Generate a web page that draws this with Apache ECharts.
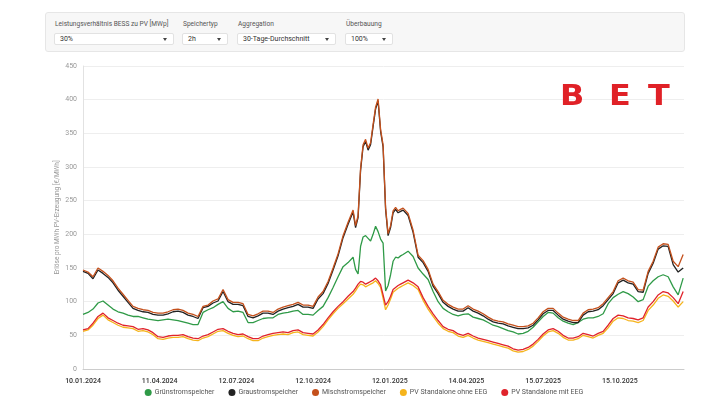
<!DOCTYPE html>
<html>
<head>
<meta charset="utf-8">
<script src="https://cdn.jsdelivr.net/npm/echarts@6/dist/echarts.min.js"></script>
<style>
  html,body{margin:0;padding:0;background:#fff;font-family:"Roboto","Liberation Sans",sans-serif;}
  #wrap{position:relative;width:728px;height:410px;overflow:hidden;}
  #chart{position:absolute;left:0;top:0;width:728px;height:410px;}
  #panel{position:absolute;left:45px;top:12px;width:640px;height:40px;background:#f7f7f7;border:1px solid #e6e6e6;border-radius:3px;box-sizing:border-box;z-index:2;}
  .lbl{position:absolute;top:7px;font-size:6.6px;color:#555;white-space:nowrap;}
  .sel{position:absolute;top:20px;height:12px;background:#fff;border:1px solid #e2e2e2;border-radius:2px;box-sizing:border-box;font-size:7px;color:#333;line-height:10px;padding-left:5px;white-space:nowrap;}
  .sel:after{content:"";position:absolute;right:6px;top:4px;border-left:2.5px solid transparent;border-right:2.5px solid transparent;border-top:3px solid #444;}
  .logo{position:absolute;top:80px;font-family:"DejaVu Sans","Liberation Sans",sans-serif;font-weight:bold;font-size:29px;color:#e02127;z-index:2;line-height:30px;transform:scaleX(1.1);transform-origin:left top;}
</style>
</head>
<body>
<div id="wrap">
  <div id="chart"></div>
  <div id="panel">
    <div class="lbl" style="left:9px">Leistungsverhältnis BESS zu PV [MWp]</div>
    <div class="lbl" style="left:137px">Speichertyp</div>
    <div class="lbl" style="left:192px">Aggregation</div>
    <div class="lbl" style="left:300px">Überbauung</div>
    <div class="sel" style="left:8px;width:120px">30%</div>
    <div class="sel" style="left:136px;width:46px">2h</div>
    <div class="sel" style="left:191px;width:99px">30-Tage-Durchschnitt</div>
    <div class="sel" style="left:299px;width:48px">100%</div>
  </div>
  <div class="logo" style="left:560px">B</div>
  <div class="logo" style="left:609px">E</div>
  <div class="logo" style="left:648px">T</div>
</div>
<script>
// Days since 10.01.2024
const days = [0,6,12,18,24,30,36,42,48,54,60,66,72,78,84,90,96,102,108,114,120,126,132,138,144,150,156,162,168,174,180,186,192,198,204,210,216,222,228,234,240,246,252,258,264,270,276,282,288,294,300,306,312,318,
  324,327,330,333,336,339,342,345,348,351,354,357,360,363,366,369,372,375,378,381,384,
  390,396,402,408,414,420,426,432,438,444,450,456,462,468,474,480,486,492,498,504,510,516,522,528,534,540,546,552,558,564,570,576,582,588,594,600,606,612,618,624,630,636,642,648,654,660,666,672,678,684,690,696,702,708,714,720];

const gruen = [81,84,89,98,101,95,89,85,83,80, 78,78,76,74,73,72,73,74,73,72, 70,68,66,66,84,88,91,96,100,90, 85,86,84,69,69,72,75,76,76,81, 83,84,86,87,81,81,80,87,93,106, 121,137,152,158,
  166,148,141,182,196,198,194,190,200,212,204,193,187,116,124,140,160,166,165,168,170,
  175,167,150,141,133,115,100,90,85,81, 79,81,82,77,75,73,69,65,63,60, 57,55,52,53,56,62,70,78,84,83, 76,71,68,66,69,74,76,76,78,82, 97,106,111,115,112,107,100,103,123,131, 137,140,137,122,110,135];

const grau = [145,142,134,147,142,136,128,117,108,99, 90,87,85,84,81,80,80,82,85,86, 84,80,78,75,91,93,98,101,115,100, 96,96,94,78,76,79,83,83,81,86, 89,91,93,96,92,92,90,104,112,127, 147,168,195,215,
  233,210,225,295,330,338,325,333,360,386,398,353,330,237,198,210,232,237,232,234,236,
  228,203,166,158,145,123,112,99,93,89, 86,86,91,86,83,79,74,70,68,67, 64,62,60,60,61,65,73,82,87,87, 80,74,71,69,69,80,85,86,88,94, 103,112,128,132,128,126,115,114,142,157, 178,183,182,155,144,150];

const misch = [147,144,137,150,145,139,131,120,111,102, 93,90,88,87,84,83,83,85,88,89, 87,83,81,78,93,95,101,104,118,103, 99,99,97,81,79,82,86,86,84,89, 92,94,96,99,95,95,93,107,115,130, 150,171,198,218,
  236,213,228,298,333,341,328,336,363,389,401,356,333,240,201,213,235,240,235,237,239,
  231,206,169,161,148,126,115,102,96,92, 89,89,94,89,86,82,77,73,71,70, 67,65,63,63,64,68,76,85,90,90, 83,77,74,72,72,83,88,89,91,97, 106,115,131,135,131,129,118,117,145,160, 181,186,185,160,152,170];

const pvOhne = [56,58,65,75,80,73,69,65,62,61, 60,56,57,55,51,45,44,46,47,47, 48,45,43,42,46,48,52,56,57,53, 50,48,49,45,42,42,46,48,50,51, 52,51,54,55,51,50,49,55,63,73, 82,90,97,104,
  111,116,122,126,125,122,124,126,128,131,127,121,105,88,95,104,114,117,120,122,124,
  128,124,118,102,89,78,68,60,56,54, 49,47,50,46,43,41,39,37,35,33, 31,27,25,26,29,34,41,49,55,57, 53,47,43,43,45,50,48,46,50,53, 61,71,76,75,72,71,69,72,87,95, 105,110,108,101,92,100];

const pvMit = [58,60,68,78,83,76,72,68,65,64, 63,59,60,58,54,48,47,49,50,50, 51,48,46,45,49,51,55,59,60,56, 53,51,52,48,45,45,49,51,53,54, 55,54,57,58,54,53,52,58,66,76, 85,93,100,108,
  115,120,126,130,129,126,128,130,132,135,131,125,110,95,100,108,118,121,124,126,128,
  132,128,122,106,93,82,72,63,59,57, 52,50,53,49,46,44,42,40,38,36, 34,30,28,29,32,37,44,52,58,60, 56,50,46,46,48,53,51,49,53,56, 65,75,80,79,76,75,73,76,92,100, 110,115,113,106,97,115];

const seriesNames = ['Grünstromspeicher','Graustromspeicher','Mischstromspeicher','PV Standalone ohne EEG','PV Standalone mit EEG'];
const seriesColors = ['#2f9a47','#222222','#c4501c','#f5b41c','#e0232b'];
const seriesValues = [gruen, grau, misch, pvOhne, pvMit];
const yTicks = {min:0, max:450, interval:50};
const xTickInterval = 92; // days
const startDate = Date.UTC(2024,0,10);
const lastDay = 721;

function dayLabel(d){
  const dt = new Date(startDate + d*86400000);
  const p = n => (n<10?'0':'')+n;
  return p(dt.getUTCDate())+'.'+p(dt.getUTCMonth()+1)+'.'+dt.getUTCFullYear();
}

const chart = echarts.init(document.getElementById('chart'));
chart.setOption({
  animation:false,
  backgroundColor:'transparent',
  grid:{left:83,right:44,top:66,bottom:41},
  legend:{
    bottom:9, left:'center', icon:'circle', itemWidth:7, itemHeight:7, itemGap:14,
    textStyle:{fontSize:7,color:'#555',fontFamily:'Roboto, sans-serif',padding:[0,0,0,-2]},
    data:seriesNames
  },
  xAxis:{
    type:'value', min:0, max:lastDay, interval:xTickInterval,
    axisLine:{show:true,lineStyle:{color:'#ccc'}},
    axisTick:{show:false},
    splitLine:{show:false},
    axisLabel:{fontSize:7,color:'#333',margin:9,showMaxLabel:false,fontWeight:500,fontFamily:'Roboto, sans-serif',
      formatter:v=> (v % xTickInterval===0) ? dayLabel(v) : ''}
  },
  yAxis:{
    type:'value', min:yTicks.min, max:yTicks.max, interval:yTicks.interval,
    name:'Erlöse pro MWh PV-Erzeugung [€/MWh]', nameLocation:'middle', nameGap:22, nameMoveOverlap:false,
    nameTextStyle:{fontSize:6.5,color:'#999',fontFamily:'Roboto, sans-serif'},
    axisLine:{show:true,lineStyle:{color:'#e2e2e2'}},
    axisTick:{show:false},
    splitLine:{lineStyle:{color:'#eeeeee'}},
    axisLabel:{fontSize:7,color:'#999',margin:6,fontFamily:'Roboto, sans-serif'}
  },
  series: seriesNames.map((n,i)=>({
    name:n, type:'line', showSymbol:false, symbol:'circle', smooth:false,
    color:seriesColors[i],
    lineStyle:{width:1.3,color:seriesColors[i]},
    data: days.map((d,j)=>[d, seriesValues[i][j]])
  }))
});
</script>
</body>
</html>
